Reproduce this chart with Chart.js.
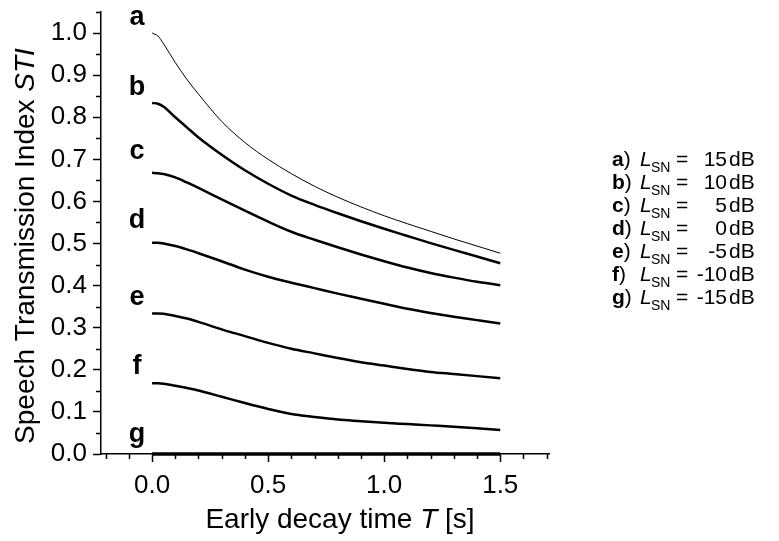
<!DOCTYPE html>
<html>
<head>
<meta charset="utf-8">
<script src="https://cdn.jsdelivr.net/npm/chart.js@4.4.0/dist/chart.umd.min.js"></script>
<style>
  html, body { margin: 0; padding: 0; background: #fff; }
</style>
</head>
<body>
<canvas id="sti-chart" width="779" height="541"></canvas>
<script>
// early decay time T [s]
var decayTimes = [0, 0.025, 0.05, 0.1, 0.15, 0.2, 0.3, 0.4, 0.5, 0.6, 0.7, 0.8, 0.9, 1.0, 1.1, 1.2, 1.3, 1.4, 1.5];

// STI curves, one per signal-to-noise level
var stiA = [1.000, 0.993, 0.974, 0.930, 0.890, 0.855, 0.790, 0.740, 0.700, 0.666, 0.636, 0.610, 0.587, 0.566, 0.547, 0.529, 0.511, 0.494, 0.477];
var stiB = [0.834, 0.832, 0.825, 0.800, 0.776, 0.752, 0.711, 0.674, 0.642, 0.614, 0.592, 0.572, 0.553, 0.535, 0.518, 0.501, 0.485, 0.469, 0.453];
var stiC = [0.668, 0.667, 0.665, 0.657, 0.645, 0.632, 0.605, 0.578, 0.552, 0.528, 0.509, 0.491, 0.474, 0.458, 0.443, 0.430, 0.419, 0.409, 0.401];
var stiD = [0.502, 0.502, 0.500, 0.494, 0.486, 0.477, 0.458, 0.438, 0.421, 0.407, 0.394, 0.381, 0.369, 0.357, 0.345, 0.335, 0.326, 0.318, 0.310];
var stiE = [0.334, 0.334, 0.333, 0.328, 0.322, 0.314, 0.296, 0.280, 0.264, 0.250, 0.239, 0.228, 0.218, 0.210, 0.202, 0.195, 0.190, 0.185, 0.180];
var stiF = [0.168, 0.168, 0.167, 0.162, 0.157, 0.151, 0.136, 0.121, 0.107, 0.095, 0.088, 0.082, 0.078, 0.074, 0.071, 0.068, 0.065, 0.061, 0.057];
var stiG = [0, 0, 0, 0, 0, 0, 0, 0, 0, 0, 0, 0, 0, 0, 0, 0, 0, 0, 0];

var curveLetters = ['a', 'b', 'c', 'd', 'e', 'f', 'g'];
var noiseLevels = ['15', '10', '5', '0', '-5', '-10', '-15'];

// tick labels
var xTicks = [0, 0.5, 1.0, 1.5];
var yTicks = [0, 0.1, 0.2, 0.3, 0.4, 0.5, 0.6, 0.7, 0.8, 0.9, 1.0];

var FONT = '"Liberation Sans", Arial, sans-serif';

function points(values) {
    return decayTimes.map(function (t, i) { return { x: t, y: values[i] }; });
}

var allSeries = [stiA, stiB, stiC, stiD, stiE, stiF, stiG];
var datasets = allSeries.map(function (s, i) {
    return {
        label: curveLetters[i],
        data: points(s),
        borderColor: '#000',
        borderWidth: i === 0 ? 1 : (i === 6 ? 3.5 : 2.5),
        pointRadius: 0,
        fill: false,
        cubicInterpolationMode: 'monotone',
        clip: false
    };
});

// minor ticks, curve letters, legend and axis titles
var decorations = {
    id: 'decorations',
    afterDraw: function (chart) {
        var ctx = chart.ctx;
        var xs = chart.scales.x, ys = chart.scales.y;
        var area = chart.chartArea;
        var i, p;

        ctx.save();
        ctx.strokeStyle = '#000';
        ctx.lineWidth = 1.5;
        ctx.beginPath();
        for (i = -2; i <= 17; i++) {
            if (i % 5 === 0) continue;
            p = Math.round(xs.getPixelForValue(i / 10)) + 0.5;
            ctx.moveTo(p, area.bottom);
            ctx.lineTo(p, area.bottom + 5);
        }
        for (i = 1; i <= 21; i += 2) {
            p = Math.round(ys.getPixelForValue(i / 20)) + 0.5;
            ctx.moveTo(area.left, p);
            ctx.lineTo(area.left - 5, p);
        }
        ctx.stroke();

        // letters next to the curves
        var letterY = [1.019, 0.854, 0.700, 0.538, 0.354, 0.189, 0.028];
        ctx.fillStyle = '#000';
        ctx.font = 'bold 27px ' + FONT;
        ctx.textAlign = 'center';
        ctx.textBaseline = 'alphabetic';
        curveLetters.forEach(function (l, k) {
            ctx.fillText(l, xs.getPixelForValue(-0.065), ys.getPixelForValue(letterY[k]));
        });

        // legend block
        ctx.textAlign = 'left';
        curveLetters.forEach(function (l, k) {
            var y = 166 + k * 23;
            ctx.font = 'bold 21px ' + FONT;
            ctx.fillText(l, 612, y);
            var w = ctx.measureText(l).width;
            ctx.font = '21px ' + FONT;
            ctx.fillText(')', 612 + w, y);
            ctx.font = 'italic 21px ' + FONT;
            ctx.fillText('L', 640, y);
            ctx.font = '14px ' + FONT;
            ctx.fillText('SN', 651, y + 6);
            ctx.font = '21px ' + FONT;
            ctx.fillText('=', 676, y);
            ctx.textAlign = 'right';
            ctx.fillText(noiseLevels[k], 727, y);
            ctx.textAlign = 'left';
            ctx.fillText('dB', 729, y);
        });

        // x axis title
        drawRich(ctx, [['Early decay time ', ''], ['T', 'italic '], [' [s]', '']], 28, 340, 528);

        // y axis title
        ctx.translate(34, 246);
        ctx.rotate(-Math.PI / 2);
        drawRich(ctx, [['Speech Transmission Index ', ''], ['STI', 'italic ']], 28, 0, 0);
        ctx.restore();
    }
};

function drawRich(ctx, parts, size, cx, baseY) {
    var total = 0;
    parts.forEach(function (p) {
        ctx.font = p[1] + size + 'px ' + FONT;
        total += ctx.measureText(p[0]).width;
    });
    var x = cx - total / 2;
    ctx.textAlign = 'left';
    ctx.textBaseline = 'alphabetic';
    parts.forEach(function (p) {
        ctx.font = p[1] + size + 'px ' + FONT;
        ctx.fillText(p[0], x, baseY);
        x += ctx.measureText(p[0]).width;
    });
}

var axisGrid = {
    display: true,
    drawOnChartArea: false,
    drawTicks: true,
    tickLength: 8,
    tickWidth: 1.5,
    tickColor: '#000',
    color: '#000'
};

function noEdgePadding(scale) {
    scale.paddingTop = 0;
    scale.paddingBottom = 0;
    scale.paddingLeft = 0;
    scale.paddingRight = 0;
}

new Chart(document.getElementById('sti-chart'), {
    type: 'line',
    data: { datasets: datasets },
    options: {
        responsive: false,
        animation: false,
        devicePixelRatio: 1,
        layout: { padding: { top: 12, right: 230, left: 0, bottom: 0 } },
        plugins: {
            legend: { display: false },
            tooltip: { enabled: false }
        },
        scales: {
            x: {
                type: 'linear',
                min: -0.22,
                max: 1.71,
                grid: axisGrid,
                border: { display: true, color: '#000', width: 1.5 },
                afterBuildTicks: function (scale) {
                    scale.ticks = xTicks.map(function (v) { return { value: v }; });
                },
                afterFit: function (scale) { scale.height = 87; noEdgePadding(scale); },
                ticks: {
                    autoSkip: false,
                    maxRotation: 0,
                    padding: 8,
                    color: '#000',
                    font: { family: FONT, size: 26 },
                    callback: function (v) { return Number(v).toFixed(1); }
                }
            },
            y: {
                type: 'linear',
                min: 0,
                max: 1.05,
                grid: axisGrid,
                border: { display: true, color: '#000', width: 1.5 },
                afterBuildTicks: function (scale) {
                    scale.ticks = yTicks.map(function (v) { return { value: v }; });
                },
                afterFit: function (scale) { scale.width = 101; noEdgePadding(scale); },
                ticks: {
                    autoSkip: false,
                    padding: 6,
                    color: '#000',
                    font: { family: FONT, size: 26 },
                    callback: function (v) { return Number(v).toFixed(1); }
                }
            }
        }
    },
    plugins: [decorations]
});
</script>
</body>
</html>
